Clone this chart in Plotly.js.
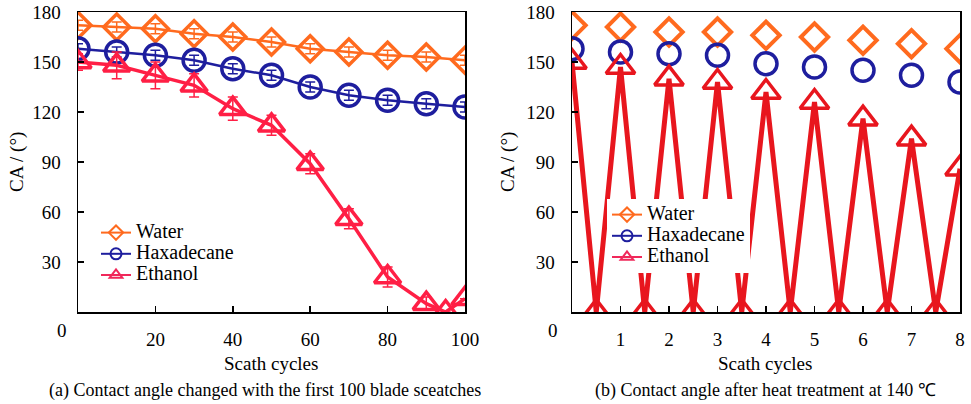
<!DOCTYPE html>
<html><head><meta charset="utf-8">
<script src="https://cdn.plot.ly/plotly-3.0.1.min.js"></script>
<style>body{margin:0;background:#fff}</style></head>
<body><div id="c" style="width:971px;height:404px"></div>
<script>
// (a) first 100 scratch cycles
const cyclesA = [0,10,20,30,40,50,60,70,80,90,100];
const waterA  = [172,171,170,167,165,162,158,156,154,153,151];
const hexA    = [158,156,154,151,146,142,135,130,127,125,123];
const ethCyclesA = [0,10,20,30,40,50,60,70,80,90,95,100];
const ethA    = [150,148,142,136,122,112,89,56,21,5,0,8];
const waterErrA = [3,3,3,3,3,3,3,3,3,3,3];
const hexErrA   = [3,3,3,3,3,3,3,3,3,3,3];
const ethErrA   = [5,8,8,7,7,6,6,6,6,4,0,0];
// (b) after heat treatment at 140 °C
const cyclesB = [0,1,2,3,4,5,6,7,8];
const waterB  = [172,171,168,168,166,165,163,161,158];
const hexB    = [158,156,155,154,149,147,145,142,138];
const ethCyclesB = [0,0.5,1,1.5,2,2.5,3,3.5,4,4.5,5,5.5,6,6.5,7,7.5,8];
const ethB    = [150,0,147,0,140,0,138,0,132,0,126,0,116,0,104,0,86];
const seriesNames = ['Water','Haxadecane','Ethanol'];
const xTicksA = [20,40,60,80,100];
const xTicksB = [1,2,3,4,5,6,7,8];
const yTicks = [30,60,90,120,150,180];

const cWater = '#FF6A1E', cHex = '#1E1E9E', cEthA = '#FF1F45', cEthB = '#E8161E', cEthLeg = '#F0285A';
const F = 'Liberation Serif';
const W = 971, H = 404, T = 12, B = 92, PH = H - T - B;
const px = v => v / W;
const py = v => (H - B - v) / PH;

function errs(a, c){ return {type:'data', array:a, visible:true, color:c, thickness:1.5, width:5}; }

const traces = [
  {x:cyclesA, y:waterA, xaxis:'x', yaxis:'y', mode:'lines+markers', showlegend:false,
   line:{color:cWater, width:2.5}, marker:{symbol:'diamond-open', size:20, color:cWater, line:{width:3.5, color:cWater}},
   error_y:errs(waterErrA, cWater)},
  {x:cyclesA, y:hexA, xaxis:'x', yaxis:'y', mode:'lines+markers', showlegend:false,
   line:{color:cHex, width:2.5}, marker:{symbol:'circle-open', size:22, color:cHex, line:{width:3.5, color:cHex}},
   error_y:errs(hexErrA, cHex)},
  {x:ethCyclesA, y:ethA, xaxis:'x', yaxis:'y', mode:'lines+markers', showlegend:false,
   line:{color:cEthA, width:3.5}, marker:{symbol:'triangle-up-open', size:23, color:cEthA, line:{width:3.5, color:cEthA}},
   error_y:errs(ethErrA, cEthA)},

  {x:cyclesB, y:waterB, xaxis:'x2', yaxis:'y2', mode:'markers', showlegend:false,
   marker:{symbol:'diamond-open', size:21, color:cWater, line:{width:4, color:cWater}}},
  {x:cyclesB, y:hexB, xaxis:'x2', yaxis:'y2', mode:'markers', showlegend:false,
   marker:{symbol:'circle-open', size:22, color:cHex, line:{width:3.5, color:cHex}}},
  {x:ethCyclesB, y:ethB, xaxis:'x2', yaxis:'y2', mode:'lines+markers', showlegend:false,
   line:{color:cEthB, width:5}, marker:{symbol:'triangle-up-open', size:25, color:cEthB, line:{width:3.5, color:cEthB}}},
];

// legend entries
const legSyms = ['diamond-open','circle-open','triangle-up-open'];
const legCols = [cWater, cHex, cEthLeg];
['legend','legend2'].forEach((lg, k) => {
  seriesNames.forEach((n, i) => {
    traces.push({x:[null], y:[null], xaxis:k ? 'x2' : 'x', yaxis:k ? 'y2' : 'y',
      name:'<span style="font-size:20px">' + n + '</span>', legend:lg,
      mode:'lines+markers', line:{color:legCols[i], width:2},
      marker:{symbol:legSyms[i], size:11, color:legCols[i], line:{width:2, color:legCols[i]}}});
  });
});

const axBase = {showline:true, linecolor:'#000', linewidth:1.5, mirror:true, ticks:'inside', ticklen:6,
  tickwidth:1.5, tickcolor:'#000', showgrid:false, zeroline:false, tickfont:{family:F, size:19, color:'#000'}};

const layout = {
  width:W, height:H, margin:{l:0, r:0, t:T, b:B}, paper_bgcolor:'#fff', plot_bgcolor:'#fff',
  font:{family:F, color:'#000'},
  xaxis:Object.assign({}, axBase, {domain:[px(78), px(465)], range:[0,100], tickvals:xTicksA, ticklabelstandoff:10, anchor:'y'}),
  yaxis:Object.assign({}, axBase, {domain:[0,1], range:[0,180], tickvals:yTicks, ticklabelstandoff:12, anchor:'x'}),
  xaxis2:Object.assign({}, axBase, {domain:[px(572), px(960)], range:[0,8], tickvals:xTicksB, ticklabelstandoff:10, anchor:'y2'}),
  yaxis2:Object.assign({}, axBase, {domain:[0,1], range:[0,180], tickvals:yTicks, ticklabelstandoff:12, anchor:'x2'}),
  legend:{x:px(96), xanchor:'left', y:py(217), yanchor:'top', bgcolor:'rgba(0,0,0,0)', borderwidth:0,
    font:{family:F, size:14, color:'#000'}, tracegroupgap:0},
  legend2:{x:px(607), xanchor:'left', y:py(199), yanchor:'top', bgcolor:'#fff', borderwidth:0,
    font:{family:F, size:14, color:'#000'}, tracegroupgap:0},
  annotations:[
    ['0', 62, 330, 19, 0], ['0', 553, 330, 19, 0],
    ['CA / (°)', 17, 162, 19, -90], ['CA / (°)', 508, 162, 19, -90],
    ['Scath cycles', 271, 363, 19, 0], ['Scath cycles', 765, 363, 19, 0],
    ['(a) Contact angle changed with the first 100 blade sceatches', 265, 390, 18, 0],
    ['(b) Contact angle after heat treatment at 140 ℃', 765, 390, 18, 0]
  ].map(a => ({text:a[0], x:px(a[1]), y:py(a[2]), xref:'paper', yref:'paper', xanchor:'center', yanchor:'middle',
    showarrow:false, textangle:a[4], font:{family:F, size:a[3], color:'#000'}}))
};
Plotly.newPlot('c', traces, layout, {displayModeBar:false, staticPlot:true});
</script></body></html>
